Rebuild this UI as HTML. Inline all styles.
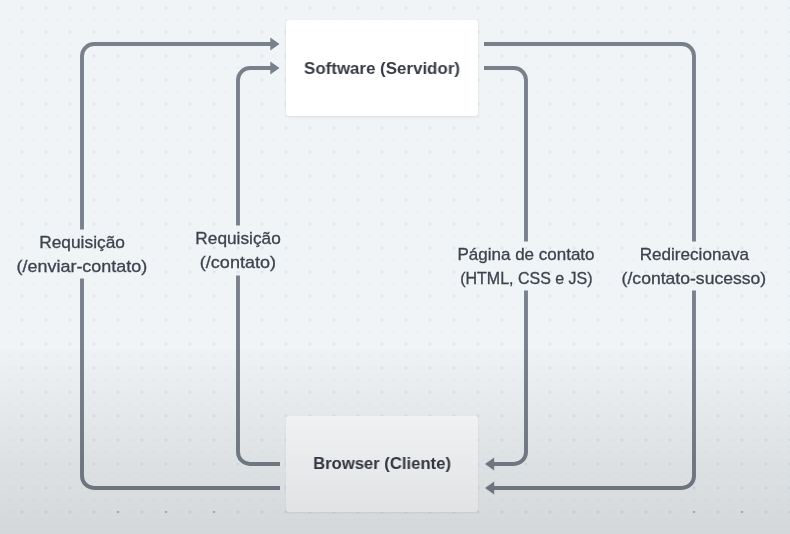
<!DOCTYPE html>
<html lang="pt-BR">
<head>
<meta charset="utf-8">
<title>Diagrama</title>
<style>
html,body{margin:0;padding:0;}
body{width:790px;height:534px;overflow:hidden;position:relative;background:#f0f4f7;font-family:"Liberation Sans",sans-serif;}
#dots{position:absolute;left:0;top:0;width:790px;height:518px;
 background-image:
  radial-gradient(circle at 1.5px 1.5px, rgba(120,130,145,0.16) 0, rgba(120,130,145,0.16) 0.8px, rgba(120,130,145,0) 1.5px),
  radial-gradient(circle at 1.5px 1.5px, rgba(120,130,145,0.09) 0, rgba(120,130,145,0.09) 0.7px, rgba(120,130,145,0) 1.4px);
 background-size:24px 24px,12px 12px;
 background-position:20.5px 6.5px,8.5px 6.5px;
}
.box{position:absolute;left:286px;width:192px;height:96px;background:#fff;border-radius:3px;box-shadow:0 1px 3px rgba(60,70,90,0.12);}
.box span{position:absolute;left:0;width:192px;text-align:center;font-weight:bold;font-size:17px;line-height:20px;color:#363b45;white-space:nowrap;}
.lbl{position:absolute;width:200px;height:48px;text-align:center;font-size:17px;line-height:24px;color:#3d424c;white-space:nowrap;-webkit-text-stroke:0.3px #3d424c;}
.lbl span{display:inline-block;transform-origin:50% 50%;}
.lbl,.box span{will-change:transform;}
svg{position:absolute;left:0;top:0;}
#ov{position:absolute;left:0;top:350px;width:790px;height:184px;background:linear-gradient(to bottom,rgba(0,0,0,0.006) 0,rgba(0,0,0,0.118) 100%);}
.sp{position:absolute;top:511.3px;width:1.4px;height:1.4px;margin-left:0.3px;border-radius:1px;background:rgba(95,100,110,0.4);}
</style>
</head>
<body>
<div id="dots"></div>
<svg width="790" height="534" viewBox="0 0 790 534" fill="none" stroke="#79808b" stroke-width="3.9">
 <!-- outer left -->
 <path d="M280 488H94a12 12 0 0 1-12-12V278.5M82 229.5V56a12 12 0 0 1 12-12H272"/>
 <!-- inner left -->
 <path d="M280 464H250a12 12 0 0 1-12-12V275.5M238 225.5V80a12 12 0 0 1 12-12H272"/>
 <!-- inner right -->
 <path d="M484 68H514a12 12 0 0 1 12 12V241.5M526 290.5V452a12 12 0 0 1-12 12H493"/>
 <!-- outer right -->
 <path d="M484 44H682a12 12 0 0 1 12 12V241.5M694 290.5V476a12 12 0 0 1-12 12H493"/>
 <g fill="#79808b" stroke="none">
  <path d="M279.5 44l-9.2-6.5v13z"/>
  <path d="M279.5 68l-9.2-6.5v13z"/>
  <path d="M485 464l9.2-6.5v13z"/>
  <path d="M485 488l9.2-6.5v13z"/>
 </g>
</svg>
<div class="box" style="top:20px"><span style="top:38.7px;transform:scaleX(0.994)" id="t1">Software (Servidor)</span></div>
<div class="box" style="top:416px;background:#fbfdff;box-shadow:0 1px 2px rgba(60,70,90,0.08)"><span style="top:38.1px;transform:scaleX(0.98)" id="t2">Browser (Cliente)</span></div>
<div class="lbl" style="left:-18px;top:230.9px"><span id="a1" style="transform:scaleX(1.020)">Requisição</span><br><span id="a2" style="transform:scaleX(1.057)">(/enviar-contato)</span></div>
<div class="lbl" style="left:138px;top:227.4px"><span id="b1" style="transform:scaleX(1.015)">Requisição</span><br><span id="b2" style="transform:scaleX(1.061)">(/contato)</span></div>
<div class="lbl" style="left:426.3px;top:242.7px"><span id="c1" style="transform:scaleX(1.000)">Página de contato</span><br><span id="c2" style="transform:scaleX(0.941)">(HTML, CSS e JS)</span></div>
<div class="lbl" style="left:594px;top:242.7px"><span id="d1" style="transform:scaleX(1.005)">Redirecionava</span><br><span id="d2" style="transform:scaleX(1.034)">(/contato-sucesso)</span></div>
<i class="sp" style="left:117px"></i><i class="sp" style="left:165px"></i><i class="sp" style="left:213px"></i><i class="sp" style="left:693px"></i><i class="sp" style="left:741px"></i>
<div id="ov"></div>
</body>
</html>
